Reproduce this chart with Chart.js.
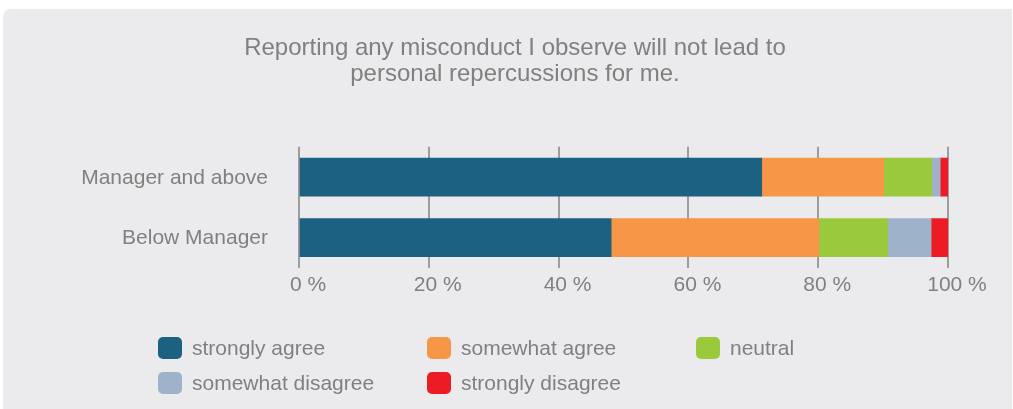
<!DOCTYPE html>
<html>
<head>
<meta charset="utf-8">
<script src="https://cdn.jsdelivr.net/npm/chart.js@4"></script>
<style>
  html, body { margin: 0; padding: 0; background: #fff; }
  body { width: 1013px; height: 409px; position: relative; overflow: hidden; font-family: 'Liberation Sans', Arial, sans-serif; }
  .panel { position: absolute; left: 3px; top: 9px; width: 1009px; height: 400px; background: #ebebed; border-radius: 8px 0 0 0; }
  #chart { position: absolute; left: 0; top: 0; }
  .legend { position: absolute; left: 158px; top: 337px; display: grid; grid-template-columns: repeat(3, 269px); row-gap: 13px; }
  .legend-item { display: flex; align-items: center; height: 22px; font-size: 21px; color: #808080; }
  .legend-item span.box { width: 24px; height: 22px; border-radius: 5px; margin-right: 10px; flex: none; }
</style>
</head>
<body>
<div class="panel"></div>
<canvas id="chart" width="1013" height="409"></canvas>
<div class="legend" id="legend"></div>
<script>
const title = ['Reporting any misconduct I observe will not lead to', 'personal repercussions for me.']
const categories = ['Manager and above', 'Below Manager']

const stronglyAgree = [71.3, 48.1]
const somewhatAgree = [18.8, 32.0]
const neutral = [7.4, 10.6]
const somewhatDisagree = [1.3, 6.7]
const stronglyDisagree = [1.2, 2.6]

const seriesNames = ['strongly agree', 'somewhat agree', 'neutral', 'somewhat disagree', 'strongly disagree']
const seriesColors = ['#1c6182', '#f79646', '#9bc93c', '#9eb3ca', '#ed1c24']
const seriesValues = [stronglyAgree, somewhatAgree, neutral, somewhatDisagree, stronglyDisagree]

const textColor = '#808080'
const fontFamily = "'Liberation Sans', Arial, sans-serif"

const chart = new Chart(document.getElementById('chart'), {
  type: 'bar',
  data: {
    labels: categories,
    datasets: seriesNames.map((name, i) => ({
      label: name,
      data: seriesValues[i],
      backgroundColor: seriesColors[i],
      borderWidth: 0,
      barThickness: 38,
    })),
  },
  options: {
    indexAxis: 'y',
    responsive: false,
    animation: false,
    layout: { padding: { left: 82, right: 65, top: 0, bottom: 106 } },
    plugins: {
      legend: { display: false },
      tooltip: { enabled: false },
      title: {
        display: true,
        text: title,
        color: textColor,
        font: { family: fontFamily, size: 24, weight: 'normal', lineHeight: 1.1 },
        padding: { top: 35, bottom: 59 },
      },
    },
    scales: {
      x: {
        stacked: true,
        min: 0,
        max: 100,
        ticks: {
          stepSize: 20,
          padding: 5,
          labelOffset: 9,
          color: textColor,
          font: { family: fontFamily, size: 21 },
          callback: (v) => v + ' %',
        },
        grid: { color: '#9d9d9d', lineWidth: 2, drawTicks: false },
        border: { display: false },
      },
      y: {
        stacked: true,
        ticks: {
          padding: 31,
          labelOffset: 1,
          color: textColor,
          font: { family: fontFamily, size: 21 },
        },
        grid: { display: false, drawTicks: false },
        border: { display: false },
        afterFit: (scale) => { scale.width = 217 },
      },
    },
  },
})

// legend laid out in three fixed columns below the chart
const legendEl = document.getElementById('legend')
chart.data.datasets.forEach((ds) => {
  const item = document.createElement('div')
  item.className = 'legend-item'
  const box = document.createElement('span')
  box.className = 'box'
  box.style.background = ds.backgroundColor
  item.appendChild(box)
  item.appendChild(document.createTextNode(ds.label))
  legendEl.appendChild(item)
})
</script>
</body>
</html>
